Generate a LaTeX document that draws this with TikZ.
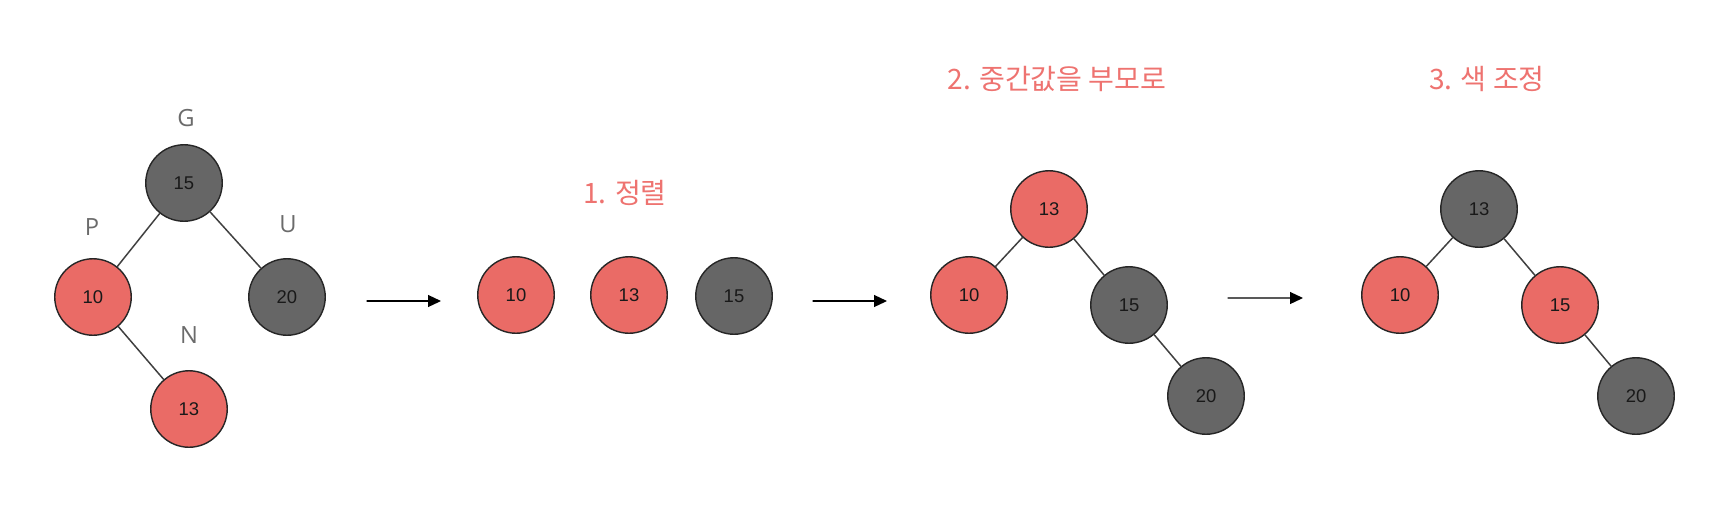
\documentclass[tikz,border=0pt]{standalone}
\usepackage{fontspec}
\setmainfont{Liberation Sans}
\newfontfamily\krfont{Noto Sans CJK KR}
\newfontfamily\tagfont{Open Sans}
\usetikzlibrary{arrows.meta}
\definecolor{rbred}{HTML}{EA6B66}
\definecolor{rbblack}{HTML}{666666}
\definecolor{taggray}{HTML}{6B6B6B}
\definecolor{titlered}{HTML}{EE7370}
\tikzset{
  every picture/.style={line join=round, line cap=round, >=Stealth},
  rednode/.style={circle, draw=black!85, fill=rbred, line width=0.8pt, minimum size=1.53cm,
    inner sep=0pt, text=black!90, font=\fontsize{10.5}{12}\selectfont},
  blacknode/.style={rednode, fill=rbblack},
  tag/.style={text=taggray, font=\tagfont\fontsize{13.5}{16}\selectfont},
  steptitle/.style={text=titlered, font=\krfont\fontsize{16}{18}\selectfont},
  treeedge/.style={draw=black!75, line width=0.85pt},
  steparrow/.style={-{Triangle[length=0.26cm,width=0.24cm]}, line width=0.7pt},
}

\begin{document}
\begin{tikzpicture}[x=0.02cm,y=-0.02cm]
\useasboundingbox (0,0) rectangle (1725,508);
% before: insert 13 under the red parent 10
\node[blacknode] (g) at (184,183) {15};
\node[rednode] (p) at (93,297) {10};
\node[blacknode] (u) at (287,297) {20};
\node[rednode] (n) at (189,409) {13};
\draw[treeedge] (g) -- (p);
\draw[treeedge] (g) -- (u);
\draw[treeedge] (p) -- (n);
\node[tag] (gtag) at (186,118) {G};
\node[tag] (ptag) at (92,227) {P};
\node[tag] (utag) at (288,224) {U};
\node[tag] (ntag) at (189,335) {N};

\coordinate (a1s) at (367,301);
\coordinate (a1e) at (441,301);
\draw[steparrow] (a1s) -- (a1e);

% 1. sort
\node[steptitle] (t1) at (625,193) {1. 정렬};
\node[rednode] (s10) at (516,295) {10};
\node[rednode] (s13) at (629,295) {13};
\node[blacknode] (s15) at (734,296) {15};

\coordinate (a2s) at (813,301);
\coordinate (a2e) at (887,301);
\draw[steparrow] (a2s) -- (a2e);

% 2. middle value becomes the parent
\node[steptitle] (t2) at (1057,79) {2. 중간값을 부모로};
\node[rednode] (m13) at (1049,209) {13};
\node[rednode] (m10) at (969,295) {10};
\node[blacknode] (m15) at (1129,305) {15};
\node[blacknode] (m20) at (1206,396) {20};
\draw[treeedge] (m13) -- (m10);
\draw[treeedge] (m13) -- (m15);
\draw[treeedge] (m15) -- (m20);

\coordinate (a3s) at (1228,298);
\coordinate (a3e) at (1303,298);
\draw[steparrow, draw=black!65, -{Triangle[length=0.26cm,width=0.24cm,fill=black,color=black]}] (a3s) -- (a3e);

% 3. recolour
\node[steptitle] (t3) at (1487,79) {3. 색 조정};
\node[blacknode] (f13) at (1479,209) {13};
\node[rednode] (f10) at (1400,295) {10};
\node[rednode] (f15) at (1560,305) {15};
\node[blacknode] (f20) at (1636,396) {20};
\draw[treeedge] (f13) -- (f10);
\draw[treeedge] (f13) -- (f15);
\draw[treeedge] (f15) -- (f20);
\end{tikzpicture}
\end{document}
